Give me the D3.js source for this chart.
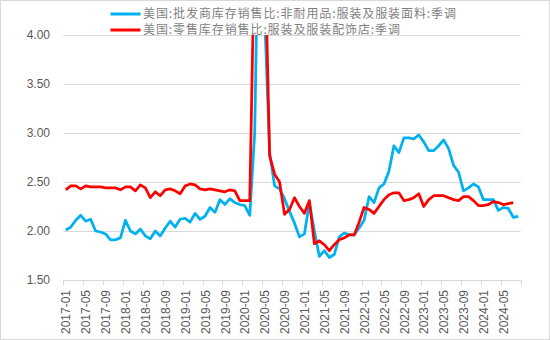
<!DOCTYPE html>
<html><head><meta charset="utf-8">
<script src="https://cdn.jsdelivr.net/npm/d3@7"></script>
<style>
html,body{margin:0;padding:0;background:#fff;}
svg{display:block;}
</style></head>
<body><svg id="chart" width="550" height="340"></svg>
<script>
const months = [
"2017-01","2017-02","2017-03","2017-04","2017-05","2017-06","2017-07","2017-08","2017-09","2017-10","2017-11","2017-12",
"2018-01","2018-02","2018-03","2018-04","2018-05","2018-06","2018-07","2018-08","2018-09","2018-10","2018-11","2018-12",
"2019-01","2019-02","2019-03","2019-04","2019-05","2019-06","2019-07","2019-08","2019-09","2019-10","2019-11","2019-12",
"2020-01","2020-02","2020-03","2020-04","2020-05","2020-06","2020-07","2020-08","2020-09","2020-10","2020-11","2020-12",
"2021-01","2021-02","2021-03","2021-04","2021-05","2021-06","2021-07","2021-08","2021-09","2021-10","2021-11","2021-12",
"2022-01","2022-02","2022-03","2022-04","2022-05","2022-06","2022-07","2022-08","2022-09","2022-10","2022-11","2022-12",
"2023-01","2023-02","2023-03","2023-04","2023-05","2023-06","2023-07","2023-08","2023-09","2023-10","2023-11","2023-12",
"2024-01","2024-02","2024-03","2024-04","2024-05","2024-06","2024-07","2024-08"];

// 美国:批发商库存销售比:非耐用品:服装及服装面料:季调
const wholesale = [
2.01,2.04,2.11,2.16,2.10,2.12,2.00,1.99,1.97,1.91,1.91,1.93,
2.11,2.00,1.97,2.02,1.95,1.92,2.00,1.95,2.03,2.10,2.04,2.12,
2.13,2.09,2.18,2.12,2.15,2.24,2.19,2.32,2.27,2.33,2.29,2.27,
2.26,2.16,3.00,6.00,4.20,2.80,2.46,2.43,2.33,2.20,2.08,1.94,
1.97,2.29,2.00,1.74,1.80,1.73,1.76,1.94,1.98,1.96,1.96,2.03,
2.11,2.35,2.29,2.44,2.48,2.61,2.87,2.80,2.95,2.95,2.94,2.98,
2.91,2.82,2.82,2.87,2.93,2.84,2.67,2.60,2.41,2.44,2.48,2.45,
2.32,2.32,2.32,2.21,2.24,2.23,2.14,2.15];

// 美国:零售库存销售比:服装及服装配饰店:季调
const retail = [
2.42,2.46,2.46,2.43,2.46,2.45,2.45,2.45,2.44,2.44,2.44,2.42,
2.45,2.45,2.41,2.47,2.44,2.34,2.40,2.36,2.42,2.43,2.41,2.38,
2.46,2.48,2.47,2.43,2.42,2.43,2.42,2.41,2.40,2.42,2.41,2.31,
2.31,2.31,5.00,9.50,5.00,2.77,2.58,2.50,2.17,2.22,2.34,2.25,
2.18,2.31,1.87,1.90,1.86,1.80,1.86,1.91,1.93,1.96,1.96,2.09,
2.24,2.22,2.18,2.25,2.32,2.37,2.39,2.39,2.31,2.32,2.34,2.38,
2.25,2.32,2.36,2.36,2.36,2.34,2.32,2.31,2.35,2.35,2.31,2.26,
2.26,2.27,2.30,2.29,2.27,2.28,2.29,null];

const yTicks = [1.5, 2.0, 2.5, 3.0, 3.5, 4.0];
const seriesNames = ["美国:批发商库存销售比:非耐用品:服装及服装面料:季调", "美国:零售库存销售比:服装及服装配饰店:季调"];
const seriesColors = ["#00b0f0", "#ff0000"];
const legendWidths = [313, 257];

const svg = d3.select("#chart");
const W = 550, H = 340;
const L = 63.3, R = 520.7, T = 35, B = 280;

svg.append("rect").attr("x",0.5).attr("y",0.5).attr("width",W-1).attr("height",H-1)
  .attr("fill","#fff").attr("stroke","#d9d9d9");

const x = d3.scaleBand().domain(months).range([L, R]).paddingInner(0).paddingOuter(0);
const y = d3.scaleLinear().domain([1.5, 4]).range([B, T]);
const cx = m => x(m) + x.bandwidth()/2;

// gridlines
svg.append("g").selectAll("line").data(yTicks).join("line")
  .attr("x1", L).attr("x2", R)
  .attr("y1", d => Math.round(y(d))+0.5).attr("y2", d => Math.round(y(d))+0.5)
  .attr("stroke", "#d9d9d9").attr("stroke-width", 1);

// y labels
svg.append("g").selectAll("text").data(yTicks).join("text")
  .attr("x", 50).attr("y", d => y(d)).attr("dy","0.35em")
  .attr("text-anchor","end")
  .attr("font-family","Arial, 'Liberation Sans', sans-serif").attr("font-size", 12)
  .attr("fill","#595959")
  .text(d => d3.format(".2f")(d));

// x axis ticks (every 4 months at band boundaries)
const tickIdx = d3.range(0, months.length + 1, 4);
svg.append("g").selectAll("line").data(tickIdx).join("line")
  .attr("x1", i => Math.round(i < months.length ? x(months[i]) : R)+0.5)
  .attr("x2", i => Math.round(i < months.length ? x(months[i]) : R)+0.5)
  .attr("y1", B).attr("y2", B + 5)
  .attr("stroke","#d9d9d9");

const labelMonths = months.filter((m, i) => i % 4 === 0);
svg.append("g").selectAll("text").data(labelMonths).join("text")
  .attr("transform", m => `translate(${cx(m)+0.5},${B+10}) rotate(-90)`)
  .attr("text-anchor","end").attr("dy","0.35em")
  .attr("font-family","Arial, 'Liberation Sans', sans-serif").attr("font-size", 12)
  .attr("fill","#595959")
  .text(m => m);

// clip
svg.append("clipPath").attr("id","plotclip").append("rect")
  .attr("x", L).attr("y", T).attr("width", R-L).attr("height", B-T);

const line = d3.line()
  .defined(d => d[1] !== null)
  .x(d => cx(d[0])).y(d => y(d[1]));

const plotG = svg.append("g").attr("clip-path","url(#plotclip)");
[wholesale, retail].forEach((vals, k) => {
  plotG.append("path")
    .datum(months.map((m, i) => [m, vals[i]]))
    .attr("fill","none").attr("stroke", seriesColors[k])
    .attr("stroke-width", 2.75).attr("stroke-linejoin","round")
    .attr("d", line);
});

// legend
const leg = svg.append("g");
seriesNames.forEach((name, k) => {
  const ly = 14 + k*16;
  leg.append("line").attr("x1", 110.5).attr("x2", 140.5).attr("y1", ly).attr("y2", ly)
    .attr("stroke", seriesColors[k]).attr("stroke-width", 3);
  leg.append("text").attr("x", 143).attr("y", ly).attr("dy","0.35em")
    .attr("font-family","'Noto Sans CJK SC', sans-serif").attr("font-size", 12)
    .attr("textLength", legendWidths[k]).attr("lengthAdjust","spacing")
    .attr("fill","#7f7f7f").text(name);
});
</script></body></html>
